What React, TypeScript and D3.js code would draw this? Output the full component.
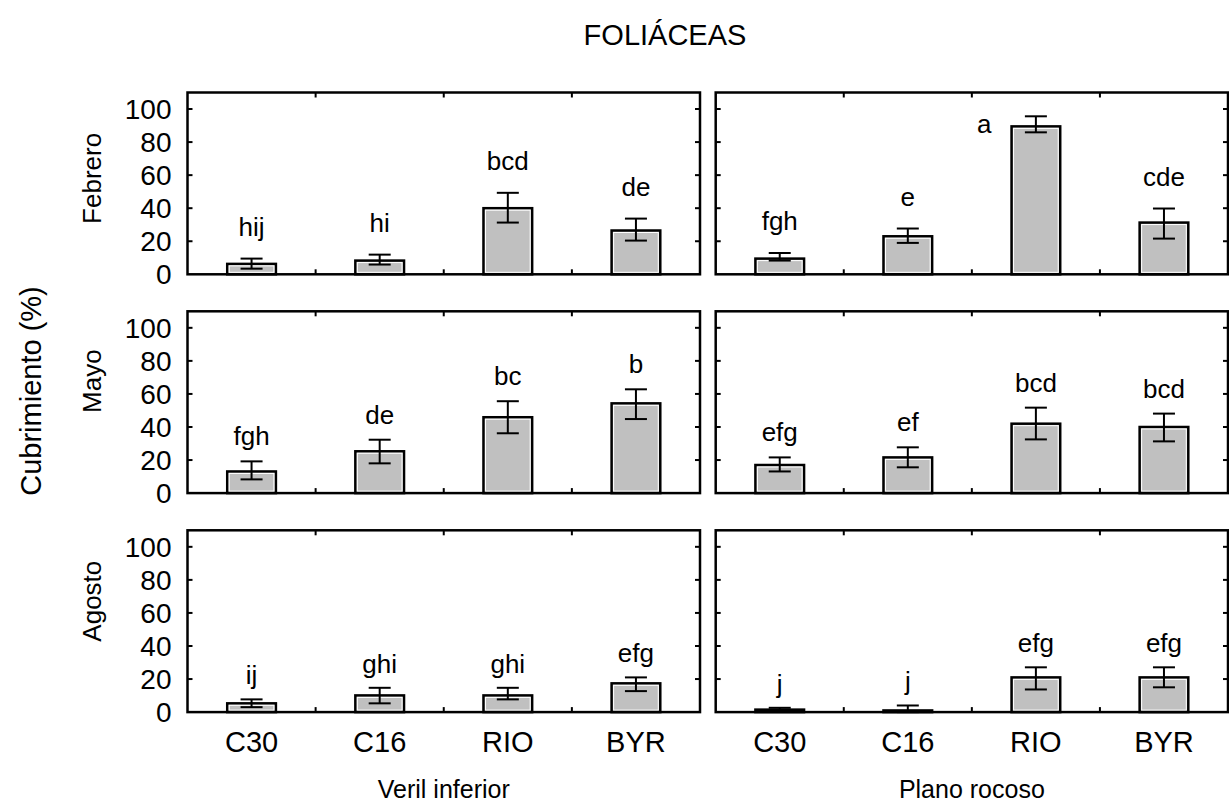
import React from "react";
import * as d3 from "d3";

const title = "FOLIÁCEAS";
const yTitle = "Cubrimiento (%)";
const months = ["Febrero", "Mayo", "Agosto"];
const zones = ["Veril inferior", "Plano rocoso"];
const sites = ["C30", "C16", "RIO", "BYR"];
const yTicks = [0, 20, 40, 60, 80, 100];

// Veril inferior: rows = months, cols = sites
const verilMean = [
  [6.3, 8.3, 40, 26.5],
  [13.1, 25.3, 45.9, 54.3],
  [5.3, 10.1, 10.1, 17.4],
];
const verilHi = [
  [9.5, 11.9, 49.3, 33.7],
  [19.2, 32.3, 55.6, 62.8],
  [7.7, 14.7, 14.7, 21],
];
const verilLo = [
  [3.4, 5.9, 31.3, 20.4],
  [8.3, 18, 36.2, 44.8],
  [3, 5.3, 7.7, 12.7],
];
const verilLetters = [
  ["hij", "hi", "bcd", "de"],
  ["fgh", "de", "bc", "b"],
  ["ij", "ghi", "ghi", "efg"],
];

// Plano rocoso
const planoMean = [
  [9.5, 23, 89.5, 31.3],
  [17, 21.6, 42, 40],
  [1.5, 1, 21, 21],
];
const planoHi = [
  [12.9, 27.7, 95.6, 39.8],
  [21.6, 27.7, 51.7, 48.1],
  [2.6, 4, 27.1, 27.1],
];
const planoLo = [
  [8.3, 19, 85.9, 21.6],
  [13.1, 15.6, 32.5, 31.3],
  [0.5, 0, 13.7, 15],
];
const planoLetters = [
  ["fgh", "e", "a", "cde"],
  ["efg", "ef", "bcd", "bcd"],
  ["j", "j", "efg", "efg"],
];

const W = 1229;
const H = 803;
const FONT = "'Liberation Sans', Arial, Helvetica, sans-serif";
const panelX = [
  [187.5, 700],
  [715.7, 1228],
];
const rowTop = [92.5, 311.3, 530.3];
const panelH = 181.8;
const labelGap = [23, 16, 15];
const rowLabelShift = [-5, -21, -20];

function Panel({ zi, mi }: { zi: number; mi: number }) {
  const [x0, x1] = panelX[zi];
  const top = rowTop[mi];
  const bottom = top + panelH;
  const x = d3.scaleBand<string>().domain(sites).range([x0, x1]).paddingInner(0).paddingOuter(0);
  const y = d3.scaleLinear().domain([0, 110]).range([bottom, top]);
  const mean = zi === 0 ? verilMean[mi] : planoMean[mi];
  const hi = zi === 0 ? verilHi[mi] : planoHi[mi];
  const lo = zi === 0 ? verilLo[mi] : planoLo[mi];
  const letters = zi === 0 ? verilLetters[mi] : planoLetters[mi];
  const bw = x.bandwidth() * 0.38;
  const capW = 22;
  const tickLen = 5;
  const boundaries = sites.slice(1).map((s) => x(s)!);
  return (
    <g>
      {sites.map((s, i) => {
        const cx = x(s)! + x.bandwidth() / 2;
        const yt = y(mean[i]);
        const yb = y(0);
        const h = Math.max(yb - yt, 0.5);
        const yh = y(hi[i]);
        const yl = y(lo[i]);
        let lx = cx;
        let ly = yh - labelGap[mi];
        let anchor = "middle";
        if (ly - 20 < top) {
          anchor = "end";
          lx = cx - bw / 2 - 20;
          ly = yt + 7;
        }
        return (
          <g key={s}>
            <rect x={cx - bw / 2} y={yt} width={bw} height={h} fill="#c0c0c0" stroke="#000" strokeWidth={2.5} />
            {h > 4 && (
              <rect
                x={cx - bw / 2 + 2}
                y={yt + 2}
                width={bw - 4}
                height={h - 4}
                fill="none"
                stroke="#fff"
                strokeWidth={1}
              />
            )}
            <line x1={cx} x2={cx} y1={yh} y2={yl} stroke="#000" strokeWidth={2} />
            <line x1={cx - capW / 2} x2={cx + capW / 2} y1={yh} y2={yh} stroke="#000" strokeWidth={2} />
            <line x1={cx - capW / 2} x2={cx + capW / 2} y1={yl} y2={yl} stroke="#000" strokeWidth={2} />
            <text x={lx} y={ly} textAnchor={anchor} fontSize={26} fontFamily={FONT} fill="#000">
              {letters[i]}
            </text>
          </g>
        );
      })}
      {yTicks.slice(1).map((t) => (
        <g key={t}>
          <line x1={x0} x2={x0 + tickLen} y1={y(t)} y2={y(t)} stroke="#000" strokeWidth={2} />
          <line x1={x1} x2={x1 - tickLen} y1={y(t)} y2={y(t)} stroke="#000" strokeWidth={2} />
        </g>
      ))}
      {boundaries.map((bx, i) => (
        <g key={i}>
          <line x1={bx} x2={bx} y1={top} y2={top + tickLen} stroke="#000" strokeWidth={2} />
          <line x1={bx} x2={bx} y1={bottom} y2={bottom - tickLen} stroke="#000" strokeWidth={2} />
        </g>
      ))}
      <rect x={x0} y={top} width={x1 - x0} height={bottom - top} fill="none" stroke="#000" strokeWidth={2.5} />
      {zi === 0 &&
        yTicks.map((t) => (
          <text
            key={t}
            x={x0 - 16}
            y={y(t)}
            dy="0.36em"
            textAnchor="end"
            fontSize={28}
            fontFamily={FONT}
            fill="#000"
          >
            {t}
          </text>
        ))}
      {mi === 2 &&
        sites.map((s) => (
          <text
            key={s}
            x={x(s)! + x.bandwidth() / 2}
            y={bottom + 40}
            textAnchor="middle"
            fontSize={29}
            fontFamily={FONT}
            fill="#000"
          >
            {s}
          </text>
        ))}
    </g>
  );
}

export default function App() {
  return (
    <svg width={W} height={H} style={{ position: "absolute", left: 0, top: 0, background: "#fff" }}>
      <rect x={0} y={0} width={W} height={H} fill="#fff" />
      <text x={665} y={45} textAnchor="middle" fontSize={29} fontFamily={FONT} fill="#000">
        {title}
      </text>
      <text
        transform={`translate(41, 391) rotate(-90)`}
        textAnchor="middle"
        fontSize={29}
        fontFamily={FONT}
        fill="#000"
      >
        {yTitle}
      </text>
      {months.map((m, mi) => (
        <text
          key={m}
          transform={`translate(101, ${rowTop[mi] + panelH / 2 + rowLabelShift[mi]}) rotate(-90)`}
          textAnchor="middle"
          fontSize={26}
          fontFamily={FONT}
          fill="#000"
        >
          {m}
        </text>
      ))}
      {zones.map((z, zi) =>
        months.map((m, mi) => <Panel key={z + m} zi={zi} mi={mi} />)
      )}
      {zones.map((z, zi) => (
        <text
          key={z}
          x={(panelX[zi][0] + panelX[zi][1]) / 2}
          y={798}
          textAnchor="middle"
          fontSize={25}
          fontFamily={FONT}
          fill="#000"
        >
          {z}
        </text>
      ))}
    </svg>
  );
}
